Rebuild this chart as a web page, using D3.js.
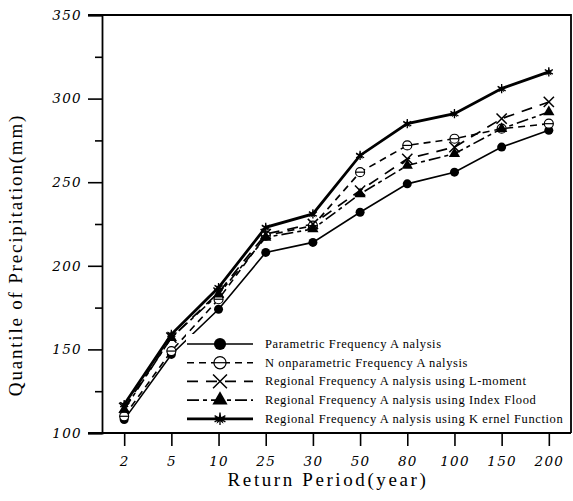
<!DOCTYPE html>
<html>
<head>
<meta charset="utf-8">
<script src="https://cdn.jsdelivr.net/npm/d3@7"></script>
<style>
  body { margin: 0; background: #fff; }
  svg { display: block; }
</style>
</head>
<body>
<div id="chart"></div>
<script>
// return periods (categorical x axis)
let periods = ['2', '5', '10', '25', '30', '50', '80', '100', '150', '200'];
let y_ticks = [100, 150, 200, 250, 300, 350];

// quantile of precipitation (mm) per method
let parametric    = [108, 147, 174, 208, 214, 232, 249, 256, 271, 281];
let nonparametric = [110, 149, 180, 218, 224, 256, 272, 276, 282, 285];
let l_moment      = [115, 157, 184, 219, 225, 245, 264, 271, 288, 298];
let index_flood   = [114, 157, 183, 217, 222, 243, 260, 267, 282, 292];
let kernel        = [117, 159, 187, 223, 231, 266, 285, 291, 306, 316];

let series_names = [
    'Parametric Frequency A nalysis',
    'N onparametric Frequency A nalysis',
    'Regional Frequency A nalysis using L-moment',
    'Regional Frequency A nalysis using Index Flood',
    'Regional Frequency A nalysis using K ernel Function'
];

function draw_chart() {
    let width = 573, height = 501;
    let left = 102, right = 571, top = 15, bottom = 433;

    let svg = d3.select('#chart').append('svg')
        .attr('width', width)
        .attr('height', height);

    let x = d3.scalePoint().domain(periods).range([left, right]).padding(0.47);
    let y = d3.scaleLinear().domain([100, 350]).range([bottom, top]);

    let series = [
        {name: series_names[0], values: parametric, dash: null, width: 1.6, mark: 'dot'},
        {name: series_names[1], values: nonparametric, dash: '7,5', width: 1.6, mark: 'open'},
        {name: series_names[2], values: l_moment, dash: '11,8', width: 1.7, mark: 'cross'},
        {name: series_names[3], values: index_flood, dash: '12,4,4,4', width: 1.6, mark: 'tri'},
        {name: series_names[4], values: kernel, dash: null, width: 2.8, mark: 'star'}
    ];

    // frame: top and right border
    svg.append('path')
        .attr('d', `M${left - 14},${top}H${right}V${bottom}`)
        .attr('fill', 'none')
        .attr('stroke', '#000')
        .attr('stroke-width', 1.8);

    // y axis
    let yAxis = svg.append('g')
        .attr('transform', `translate(${left},0)`)
        .call(d3.axisLeft(y).tickValues(y_ticks).tickSize(14).tickPadding(6));
    yAxis.select('.domain').attr('stroke-width', 1.8);
    yAxis.selectAll('.tick line').attr('stroke-width', 1.6);
    yAxis.selectAll('text')
        .attr('font-family', 'DejaVu Serif')
        .attr('font-style', 'italic')
        .attr('font-size', 13.5)
        .attr('letter-spacing', 1.3);

    // minor y ticks
    svg.append('g')
        .attr('transform', `translate(${left},0)`)
        .call(d3.axisLeft(y).tickValues([125, 175, 225, 275, 325]).tickSize(7).tickFormat(''))
        .call(g => g.select('.domain').remove())
        .selectAll('line').attr('stroke-width', 1.6);

    // x axis
    let xAxis = svg.append('g')
        .attr('transform', `translate(0,${bottom})`)
        .call(d3.axisBottom(x).tickSize(13).tickPadding(10).tickSizeOuter(0));
    xAxis.select('.domain')
        .attr('d', `M${left - 14},0H${right}`)
        .attr('stroke-width', 1.8);
    xAxis.selectAll('.tick line').attr('stroke-width', 1.6);
    xAxis.selectAll('text')
        .attr('font-family', 'DejaVu Serif')
        .attr('font-style', 'italic')
        .attr('font-size', 13.5)
        .attr('letter-spacing', 1.3);

    // axis titles
    svg.append('text')
        .text('Return Period(year)')
        .attr('x', 328)
        .attr('y', 486)
        .attr('text-anchor', 'middle')
        .attr('font-family', 'Liberation Serif')
        .attr('font-size', 19)
        .attr('letter-spacing', 2.6);

    svg.append('text')
        .text('Quantile of Precipitation(mm)')
        .attr('transform', 'translate(22,255) rotate(-90)')
        .attr('text-anchor', 'middle')
        .attr('font-family', 'Liberation Serif')
        .attr('font-size', 19)
        .attr('letter-spacing', 1.8);

    // lines
    let line = d3.line()
        .x((d, i) => x(periods[i]))
        .y(d => y(d));

    let plot = svg.append('g').attr('class', 'series');

    series.forEach(s => {
        plot.append('path')
            .datum(s.values)
            .attr('d', line)
            .attr('fill', 'none')
            .attr('stroke', '#000')
            .attr('stroke-width', s.width)
            .attr('stroke-dasharray', s.dash);
    });

    series.forEach(s => {
        s.values.forEach((v, i) => {
            draw_mark(plot, s.mark, x(periods[i]), y(v), 1);
        });
    });

    // legend
    let legend = svg.append('g').attr('class', 'legend');
    legend.append('rect')
        .attr('x', 186)
        .attr('y', 334)
        .attr('width', right - 187)
        .attr('height', bottom - 335)
        .attr('fill', '#fff');

    series.forEach((s, i) => {
        let ly = 344 + i * 18.7;
        legend.append('line')
            .attr('x1', 187)
            .attr('x2', 253)
            .attr('y1', ly)
            .attr('y2', ly)
            .attr('stroke', '#000')
            .attr('stroke-width', s.width)
            .attr('stroke-dasharray', s.dash);
        draw_mark(legend, s.mark, 220, ly, 1.35);
        legend.append('text')
            .text(s.name)
            .attr('x', 265)
            .attr('y', ly + 4)
            .attr('font-family', 'Liberation Serif')
            .attr('font-size', 12.5)
            .attr('letter-spacing', 0.6);
    });
}

function draw_mark(g, mark, cx, cy, k) {
    if (mark === 'dot') {
        g.append('circle')
            .attr('cx', cx).attr('cy', cy).attr('r', 4.5 * k)
            .attr('fill', '#000');
    } else if (mark === 'open') {
        g.append('circle')
            .attr('cx', cx).attr('cy', cy).attr('r', 4.5 * k)
            .attr('fill', '#fff')
            .attr('stroke', '#000')
            .attr('stroke-width', 1.2);
        g.append('line')
            .attr('x1', cx - 4.5 * k).attr('x2', cx + 4.5 * k)
            .attr('y1', cy).attr('y2', cy)
            .attr('stroke', '#000')
            .attr('stroke-width', 1.2);
    } else if (mark === 'cross') {
        g.append('path')
            .attr('d', d3.symbol().type(d3.symbolTimes).size(70 * k * k)())
            .attr('transform', `translate(${cx},${cy})`)
            .attr('fill', 'none')
            .attr('stroke', '#000')
            .attr('stroke-width', 1.5);
    } else if (mark === 'tri') {
        g.append('path')
            .attr('d', d3.symbol().type(d3.symbolTriangle).size(55 * k * k)())
            .attr('transform', `translate(${cx},${cy})`)
            .attr('fill', '#000');
    } else if (mark === 'star') {
        g.append('path')
            .attr('d', d3.symbol().type(d3.symbolAsterisk).size(60 * k * k)())
            .attr('transform', `translate(${cx},${cy})`)
            .attr('fill', 'none')
            .attr('stroke', '#000')
            .attr('stroke-width', 1.3);
        g.append('path')
            .attr('d', d3.symbol().type(d3.symbolStar).size(22 * k * k)())
            .attr('transform', `translate(${cx},${cy})`)
            .attr('fill', '#000');
    }
}

draw_chart();
</script>
</body>
</html>
